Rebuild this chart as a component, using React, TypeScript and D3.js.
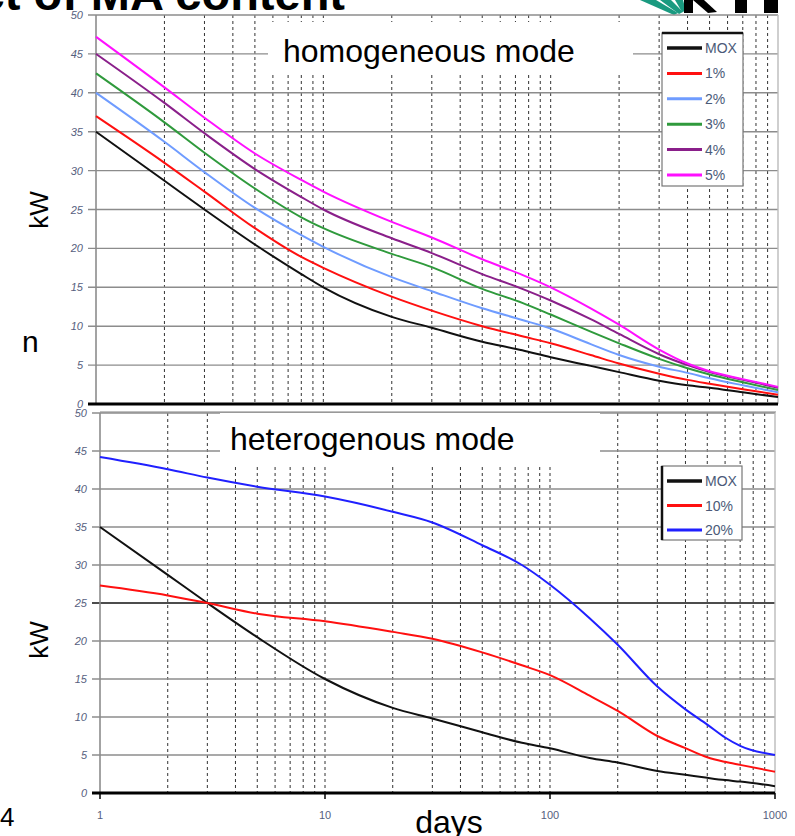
import * as d3 from "d3";

// homogeneous mode (top panel)
const daysTop = [1, 2, 3, 5, 8, 10, 20, 30, 50, 75, 100, 150, 200, 300, 400, 500, 700, 1000];
const moxTop = [35, 28.7, 25, 20.5, 16.7, 15, 11.2, 9.8, 8, 6.9, 6, 4.9, 4.1, 3, 2.4, 2.1, 1.5, 0.9];
const pct1 = [37, 31, 27.3, 22.6, 18.9, 17.5, 13.8, 12, 10, 8.7, 7.8, 6.3, 5.2, 3.9, 3.1, 2.6, 1.9, 1.2];
const pct2 = [40, 33.7, 29.8, 25.2, 21.7, 20.2, 16.3, 14.5, 12.3, 10.8, 9.7, 7.7, 6.3, 4.8, 4, 3.3, 2.4, 1.5];
const pct3 = [42.5, 36.2, 32.3, 27.7, 24, 22.6, 19.3, 17.6, 14.8, 13, 11.5, 9.3, 7.8, 5.8, 4.6, 3.8, 2.8, 1.8];
const pct4 = [45, 38.7, 34.8, 30.2, 26.6, 25, 21.3, 19.4, 16.7, 14.8, 13.3, 10.9, 9, 6.4, 5, 4.1, 3.1, 2.1];
const pct5 = [47.2, 40.7, 36.8, 32.2, 28.8, 27.3, 23.4, 21.4, 18.6, 16.6, 15, 12.3, 10.2, 7, 5.2, 4.2, 3.2, 2.2];

// heterogenous mode (bottom panel)
const daysBot = [1, 2, 3, 5, 10, 20, 30, 50, 75, 100, 150, 200, 300, 400, 500, 600, 700, 1000];
const moxBot = [35, 28.7, 25, 20.5, 15, 11.2, 9.8, 8, 6.6, 5.9, 4.6, 4, 2.9, 2.4, 2, 1.7, 1.5, 0.9];
const pct10 = [27.3, 26, 25, 23.6, 22.6, 21.2, 20.3, 18.5, 16.8, 15.5, 12.8, 10.8, 7.5, 5.9, 4.7, 4.1, 3.7, 2.8];
const pct20 = [44.2, 42.6, 41.5, 40.3, 39, 37, 35.6, 32.6, 30, 27.4, 23, 19.5, 14, 11, 9, 7.3, 6.2, 5.0];

const topSeries = [
  { name: "MOX", values: moxTop, color: "#111111" },
  { name: "1%", values: pct1, color: "#ff1010" },
  { name: "2%", values: pct2, color: "#6f9cff" },
  { name: "3%", values: pct3, color: "#2f9a3c" },
  { name: "4%", values: pct4, color: "#8a1f8a" },
  { name: "5%", values: pct5, color: "#ff10ff" },
];
const botSeries = [
  { name: "MOX", values: moxBot, color: "#111111" },
  { name: "10%", values: pct10, color: "#ff1010" },
  { name: "20%", values: pct20, color: "#2020ff" },
];

const yTicks = [0, 5, 10, 15, 20, 25, 30, 35, 40, 45, 50];
const xLabels = [1, 10, 100, 1000];

const FONT = "'Liberation Sans', Arial, sans-serif";
const GRID = "#8c8c8c";
const TICK_TXT = "#56607e";

function Panel({ x, y, days, series, titleText, titleBox, legend, heavy25, showXLabels }) {
  const grid = x.ticks().filter((d) => d > 1 && d < 1000);
  const [x0, x1] = x.range();
  const [y0, y1] = y.range();
  const line = (vals) =>
    d3
      .line<number>()
      .x((_, i) => x(days[i]))
      .y((v) => y(v))
      .curve(d3.curveMonotoneX)(vals);

  return (
    <g>
      {/* vertical minor grid */}
      {grid.map((d) => (
        <line key={"v" + d} x1={x(d)} x2={x(d)} y1={y1} y2={y0} stroke="#333" strokeWidth={1} strokeDasharray="3,3" />
      ))}
      {/* horizontal grid */}
      {yTicks.map((t) =>
        t === 0 ? null : (
          <line
            key={"h" + t}
            x1={x0 - 8}
            x2={x1}
            y1={y(t)}
            y2={y(t)}
            stroke={heavy25 && t === 25 ? "#111" : GRID}
            strokeWidth={heavy25 && t === 25 ? 1.6 : 1.4}
          />
        )
      )}
      {/* frame */}
      <line x1={x0} x2={x0} y1={y1} y2={y0} stroke={GRID} strokeWidth={1.6} />
      <line x1={x1} x2={x1} y1={y1} y2={y0} stroke="#bbb" strokeWidth={1.4} />
      {/* title box */}
      <rect x={titleBox[0]} y={titleBox[1]} width={titleBox[2]} height={titleBox[3]} fill="#fff" />
      <text x={titleBox[0] + titleBox[4]} y={titleBox[1] + titleBox[5]} fontFamily={FONT} fontSize={32} fill="#000">
        {titleText}
      </text>
      {/* curves */}
      {series.map((s) => (
        <path key={s.name} d={line(s.values)} fill="none" stroke={s.color} strokeWidth={2} />
      ))}
      {/* x axis */}
      <line x1={x0 - 8} x2={x1} y1={y0} y2={y0} stroke="#000" strokeWidth={3} />
      {showXLabels &&
        xLabels.map((d) => (
          <g key={"xl" + d}>
            <line x1={x(d)} x2={x(d)} y1={y0} y2={y0 + 6} stroke="#000" strokeWidth={1.5} />
            <text x={x(d)} y={y0 + 26} textAnchor="middle" fontFamily={FONT} fontSize={11} fill={TICK_TXT}>
              {d}
            </text>
          </g>
        ))}
      {/* y labels */}
      {yTicks.map((t) => (
        <text
          key={"yl" + t}
          x={x0 - 13}
          y={y(t) + 4}
          textAnchor="end"
          fontFamily={FONT}
          fontStyle="italic"
          fontSize={11}
          fill={TICK_TXT}
        >
          {t}
        </text>
      ))}
      {/* legend */}
      <g>
        <rect x={legend.x} y={legend.y} width={legend.w} height={legend.h} fill="#fff" stroke="#777" strokeWidth={1.2} />
        {legend.thickTop ? (
          <line x1={legend.x} x2={legend.x + legend.w} y1={legend.y} y2={legend.y} stroke="#111" strokeWidth={2.5} />
        ) : (
          <line x1={legend.x} x2={legend.x} y1={legend.y} y2={legend.y + legend.h} stroke="#111" strokeWidth={2.5} />
        )}
        {series.map((s, i) => {
          const ry = legend.y + legend.first + i * legend.step;
          return (
            <g key={"lg" + s.name}>
              <line x1={legend.x + 5} x2={legend.x + 40} y1={ry} y2={ry} stroke={s.color} strokeWidth={i === 0 ? 3.5 : 3} />
              <text x={legend.x + 43} y={ry + 5} fontFamily={FONT} fontSize={14} fill="#4b5a78">
                {s.name}
              </text>
            </g>
          );
        })}
      </g>
    </g>
  );
}

export default function App() {
  const topX = d3.scaleLog().domain([1, 1000]).range([96, 778]);
  const topY = d3.scaleLinear().domain([0, 50]).range([404, 15]);
  const botX = d3.scaleLog().domain([1, 1000]).range([100, 775]);
  const botY = d3.scaleLinear().domain([0, 50]).range([793, 413]);

  return (
    <svg width={795} height={836} style={{ position: "absolute", left: 0, top: 0, background: "#fff" }}>
      <rect width={795} height={836} fill="#fff" />
      {/* slide title, cut off at the top */}
      <text x={345} y={10} textAnchor="end" fontFamily={FONT} fontWeight="bold" fontSize={47} fill="#000">
        Effect of MA content
      </text>
      {/* logo */}
      <g>
        <path d="M640,0 L656,0 L678,13 L674,15 Z" fill="#1a9a80" />
        <path d="M660,0 L671,0 L683,12 L679,14 Z" fill="#1a9a80" />
        <path d="M675,0 L683,0 L686,11 L682,12 Z" fill="#1a9a80" />
        <rect x={684} y={0} width={9} height={13} fill="#000" />
        <path d="M693,0 L704,0 L717,12 L708,13 Z" fill="#000" />
        <rect x={735} y={0} width={12} height={13} fill="#000" />
        <rect x={764} y={0} width={14} height={13} fill="#000" />
      </g>
      <Panel
        x={topX}
        y={topY}
        days={daysTop}
        series={topSeries}
        titleText="homogeneous mode"
        titleBox={[268, 22, 365, 53, 15, 40]}
        legend={{ x: 662, y: 33, w: 81, h: 153, first: 15, step: 25.4, thickTop: true }}
        heavy25={false}
        showXLabels={false}
      />
      <line x1={100} x2={776} y1={412} y2={412} stroke="#aaa" strokeWidth={1.4} />
      <Panel
        x={botX}
        y={botY}
        days={daysBot}
        series={botSeries}
        titleText="heterogenous mode"
        titleBox={[220, 413, 380, 53, 10, 37]}
        legend={{ x: 662, y: 466, w: 80, h: 74, first: 15, step: 24.5, thickTop: false }}
        heavy25={true}
        showXLabels={true}
      />
      {/* side texts */}
      <text transform="translate(48,210) rotate(-90)" textAnchor="middle" fontFamily={FONT} fontSize={26} fill="#000">
        kW
      </text>
      <text transform="translate(48,640) rotate(-90)" textAnchor="middle" fontFamily={FONT} fontSize={26} fill="#000">
        kW
      </text>
      <text x={22} y={352} fontFamily={FONT} fontSize={30} fill="#000">
        n
      </text>
      <text x={0} y={826} fontFamily={FONT} fontSize={26} fill="#000">
        4
      </text>
      <text x={449} y={833} textAnchor="middle" fontFamily={FONT} fontSize={32} fill="#000">
        days
      </text>
    </svg>
  );
}
